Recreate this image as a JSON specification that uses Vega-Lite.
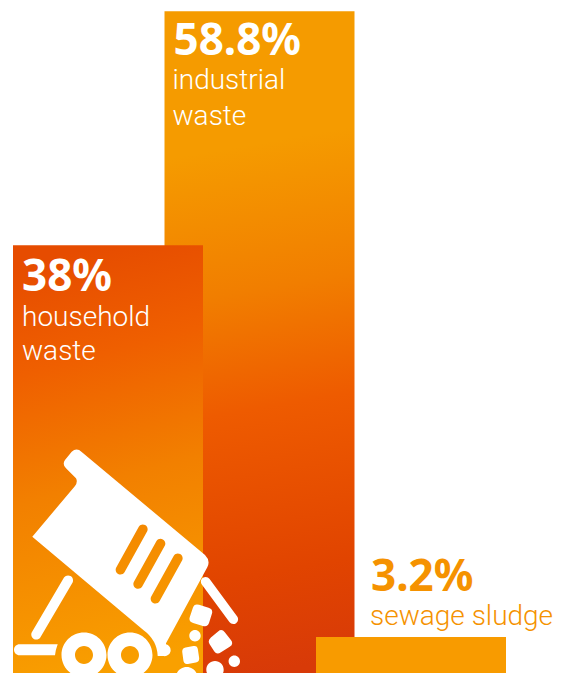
{
  "$schema": "https://vega.github.io/schema/vega-lite/v6.json",
  "width": 568,
  "height": 673,
  "padding": 0,
  "autosize": {"type": "none"},
  "background": "#ffffff",
  "config": {"view": {"stroke": null}},
  "data": {"values": [
    {"source": "industrial", "share": 58.8, "pct": "58.8%", "label": "industrial\nwaste"},
    {"source": "household", "share": 38, "pct": "38%", "label": "household\nwaste"},
    {"source": "sewage", "share": 3.2, "pct": "3.2%", "label": "sewage sludge"}
  ]},
  "encoding": {
    "x": {"field": "source", "type": "nominal", "axis": null,
      "scale": {"type": "point", "padding": 0, "domain": ["household", "industrial", "sewage"], "range": [108, 411]}},
    "y": {"field": "share", "type": "quantitative", "axis": null, "stack": false,
      "scale": {"domain": [0, 59.8], "nice": false, "zero": true}}
  },
  "layer": [
    {"transform": [{"filter": "datum.source === 'industrial'"}],
     "mark": {"type": "bar", "size": 190, "cornerRadius": 0,
       "fill": {"gradient": "linear", "x1": 0.475, "y1": 0, "x2": 0.525, "y2": 1, "stops": [
         {"offset": 0, "color": "#f59b00"},
         {"offset": 0.2, "color": "#f59b00"},
         {"offset": 0.42, "color": "#f17e00"},
         {"offset": 0.6, "color": "#ee5b00"},
         {"offset": 0.85, "color": "#e14400"},
         {"offset": 1, "color": "#d83a08"}]}}},
    {"transform": [{"filter": "datum.source === 'household'"}],
     "mark": {"type": "bar", "size": 190,
       "fill": {"gradient": "linear", "x1": 0.44, "y1": 0, "x2": 0.56, "y2": 1, "stops": [
         {"offset": 0, "color": "#e64c00"},
         {"offset": 0.25, "color": "#ef5f00"},
         {"offset": 0.55, "color": "#f28000"},
         {"offset": 1, "color": "#f9a000"}]}}},
    {"transform": [{"filter": "datum.source === 'sewage'"}],
     "mark": {"type": "bar", "size": 190, "fill": "#f89b00"}},
    {"transform": [{"filter": "datum.source === 'household'"}],
     "mark": {"type": "point", "filled": true, "fill": "#ffffff", "opacity": 1, "strokeWidth": 0, "size": 4,
       "shape": "M-26.3,-221 L97,-118 Q102.7,-112.3 99.3,-105.7 L58,-29.7 L58,-28.7 A5.8,5.8 0 0 1 55.3,-17 L49.7,-17 Q49,-33 35.3,-43 L-75.7,-136.3 L-33,-187 Q-30,-191 -32,-194.7 L-42,-204.7 Q-46,-208.7 -43,-213 L-36.3,-221.3 Q-31.3,-225.7 -26.3,-221 Z M30.8,-146.3 L8.1,-105.3 A4.8,4.8 0 0 0 16.5,-100.7 L39.2,-141.7 A4.8,4.8 0 0 0 30.8,-146.3 Z M48.5,-132 L25.8,-91 A4.8,4.8 0 0 0 34.2,-86.4 L56.9,-127.4 A4.8,4.8 0 0 0 48.5,-132 Z M65.8,-117.3 L43.1,-76.3 A4.8,4.8 0 0 0 51.5,-71.7 L74.2,-112.7 A4.8,4.8 0 0 0 65.8,-117.3 Z M-35.4,-90.5 L-67.7,-35.5 A5,5 0 0 1 -76.3,-40.5 L-44,-95.5 A5,5 0 0 1 -35.4,-90.5 Z M-88.5,-28.7 L-50.3,-28.7 Q-52.5,-23 -53,-17.7 L-88.5,-17.7 A5.5,5.5 0 0 1 -88.5,-28.7 Z M-46.5,-18 A22.5,22.5 0 1 1 -1.5,-18 A22.5,22.5 0 1 1 -46.5,-18 Z M-33,-18 A9,9 0 1 0 -15,-18 A9,9 0 1 0 -33,-18 Z M-0.5,-18 A22.5,22.5 0 1 1 44.5,-18 A22.5,22.5 0 1 1 -0.5,-18 Z M13,-18 A9,9 0 1 0 31,-18 A9,9 0 1 0 13,-18 Z M101.6,-94.1 L129.2,-56.5 A4.8,4.8 0 0 1 121.4,-50.9 L93.8,-88.5 A4.8,4.8 0 0 1 101.6,-94.1 Z M91.05,-68.2 L100.55,-65.2 Q105.3,-63.7 103.9,-59.2 L101.1,-50.2 Q99.7,-45.7 94.85,-47.1 L85.15,-49.9 Q80.3,-51.3 81.8,-55.9 L84.8,-65.1 Q86.3,-69.7 91.05,-68.2 Z M116.8,-40.8 L122.9,-32.9 Q126,-29 121.7,-26.25 L113,-20.75 Q108.7,-18 106.35,-21.6 L101.65,-28.7 Q99.3,-32.3 102.9,-35.4 L110.1,-41.6 Q113.7,-44.7 116.8,-40.8 Z M77.6,-25.45 L85.4,-26.95 Q89.3,-27.7 89.9,-23.6 L91.1,-15.4 Q91.7,-11.3 87.8,-10.55 L79.9,-9.05 Q76,-8.3 75.4,-12.4 L74.3,-20.6 Q73.7,-24.7 77.6,-25.45 Z M81.3,-37.3 A5.7,5.7 0 1 1 92.7,-37.3 A5.7,5.7 0 1 1 81.3,-37.3 Z M120.6,-11.7 A5.7,5.7 0 1 1 132,-11.7 A5.7,5.7 0 1 1 120.6,-11.7 Z M98.3,-3.3 A8.7,8.7 0 1 1 115.7,-3.3 A8.7,8.7 0 1 1 98.3,-3.3 Z M67.7,5 A11,11 0 1 1 89.7,5 A11,11 0 1 1 67.7,5 Z"},
     "encoding": {"y": {"datum": 0}}},
    {"transform": [{"filter": "datum.source === 'industrial'"}],
     "mark": {"type": "text", "align": "left", "baseline": "alphabetic", "dx": -86, "dy": 44, "font": "Noto Sans", "fontWeight": 700, "fontSize": 44, "fill": "#ffffff"},
     "encoding": {"text": {"field": "pct"}}},
    {"transform": [{"filter": "datum.source === 'industrial'"}],
     "mark": {"type": "text", "align": "left", "baseline": "alphabetic", "lineBreak": "\n", "lineHeight": 35.5, "dx": -87, "dy": 78, "font": "Roboto", "fontWeight": 300, "fontSize": 28, "fill": "#ffffff"},
     "encoding": {"text": {"field": "label"}}},
    {"transform": [{"filter": "datum.source === 'household'"}],
     "mark": {"type": "text", "align": "left", "baseline": "alphabetic", "dx": -86, "dy": 46, "font": "Noto Sans", "fontWeight": 700, "fontSize": 44, "fill": "#ffffff"},
     "encoding": {"text": {"field": "pct"}}},
    {"transform": [{"filter": "datum.source === 'household'"}],
     "mark": {"type": "text", "align": "left", "baseline": "alphabetic", "lineBreak": "\n", "lineHeight": 34.5, "dx": -86, "dy": 80.5, "font": "Roboto", "fontWeight": 300, "fontSize": 28, "fill": "#ffffff"},
     "encoding": {"text": {"field": "label"}}},
    {"transform": [{"filter": "datum.source === 'sewage'"}],
     "mark": {"type": "text", "align": "left", "baseline": "alphabetic", "dx": -40, "dy": -46, "font": "Noto Sans", "fontWeight": 700, "fontSize": 44, "fill": "#f59200"},
     "encoding": {"text": {"field": "pct"}}},
    {"transform": [{"filter": "datum.source === 'sewage'"}],
     "mark": {"type": "text", "align": "left", "baseline": "alphabetic", "dx": -41, "dy": -12, "font": "Roboto", "fontWeight": 300, "fontSize": 28, "fill": "#f59200"},
     "encoding": {"text": {"field": "label"}}}
  ]
}
